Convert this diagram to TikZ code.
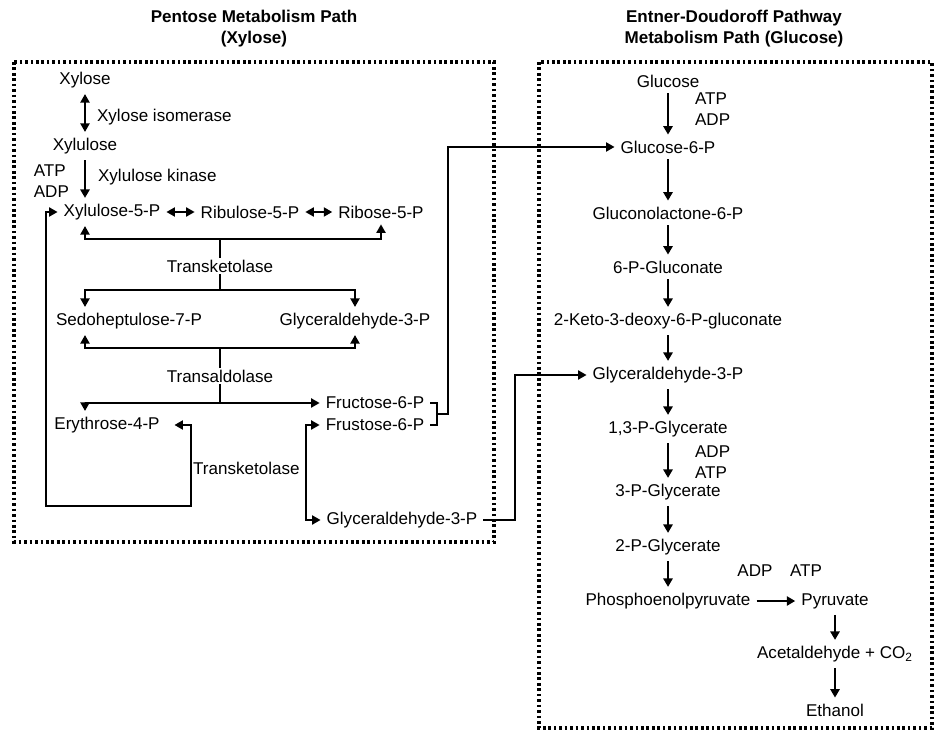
\documentclass[tikz,border=0pt]{standalone}
\usepackage{fontspec}
\setmainfont{Liberation Sans}
\usetikzlibrary{positioning,arrows.meta}

\begin{document}
\begin{tikzpicture}[
  x=0.02cm, y=-0.02cm,
  font=\fontsize{9.7}{11.6}\selectfont,
  >={Triangle[length=4.8pt,width=5.2pt]},
  met/.style={inner sep=3.3pt},
  lbl/.style={inner sep=1pt, align=left},
  title/.style={font=\fontsize{9.7}{12}\selectfont\bfseries, align=center},
  pathbox/.style={draw, line width=1.9pt, dash pattern=on 1.5pt off 1.6pt},
  arrow/.style={->, line width=1.2pt},
  branch/.style={->, line width=0.9pt},
  twoway/.style={<->, line width=0.9pt},
  link/.style={line width=0.9pt}
]
\useasboundingbox (0,0) rectangle (935,732);

% Titles and frames
\node[title] (t_pent) at (254,29) {Pentose Metabolism Path\\(Xylose)};
\node[title] (t_ed) at (734,29) {Entner-Doudoroff Pathway\\Metabolism Path (Glucose)};
\draw[pathbox] (14,62) rectangle (494,542);
\draw[pathbox] (539,62) rectangle (932,728);

% Pentose path
\node[met] (xyl)   at (85,80)   {Xylose};
\node[met] (xylu)  at (85,146)  {Xylulose};
\node[met] (x5p)   at (112,212) {Xylulose-5-P};
\node[met] (ru5p)  at (250,212) {Ribulose-5-P};
\node[met] (r5p)   at (381,212) {Ribose-5-P};
\node[met] (sed7p) at (129,321) {Sedoheptulose-7-P};
\node[met] (gap1)  at (355,321) {Glyceraldehyde-3-P};
\node[met] (ery4p) at (107,425) {Erythrose-4-P};
\node[met] (fru1)  at (375,403) {Fructose-6-P};
\node[met] (fru2)  at (375,425) {Frustose-6-P};
\node[met] (gap2)  at (402,520) {Glyceraldehyde-3-P};

% Enzymes and cofactors
\node[lbl, anchor=west] (xi)   at (95,117)  {Xylose isomerase};
\node[lbl, anchor=west] (xk)   at (96,177)  {Xylulose kinase};
\node[lbl, anchor=east] (atp1) at (71,181)  {ATP\\ADP};
\node[lbl] (tk1) at (220,266) {Transketolase};
\node[lbl] (ta)  at (220,376) {Transaldolase};
\node[lbl, anchor=west] (tk2) at (191,468) {Transketolase};

% Junctions
\coordinate (tkin)  at (220,239);
\coordinate (tkout) at (220,290);
\coordinate (tain)  at (220,348);
\coordinate (taout) at (ta |- fru1.west);
\coordinate (frj)   at (437,414);
\coordinate (frx)   at (448,414);
\coordinate (gj)    at (515,450);
\coordinate (lpr)   at (191,506);
\coordinate (lpl)   at (46,212);
\coordinate (tkr)   at (306,470);

% Entner-Doudoroff path
\node[met] (glc)  at (668,81)  {Glucose};
\node[met] (g6p)  at (668,147) {Glucose-6-P};
\node[met] (gl6p) at (668,213) {Gluconolactone-6-P};
\node[met] (pgn)  at (668,267) {6-P-Gluconate};
\node[met] (kdpg) at (668,321) {2-Keto-3-deoxy-6-P-gluconate};
\node[met] (gap)  at (668,375) {Glyceraldehyde-3-P};
\node[met] (bpg)  at (668,429) {1,3-P-Glycerate};
\node[met] (pga3) at (668,492) {3-P-Glycerate};
\node[met] (pga2) at (668,547) {2-P-Glycerate};
\node[met] (pep)  at (668,601) {Phosphoenolpyruvate};
\node[met] (pyr)  at (835,601) {Pyruvate};
\node[met] (acet) at (835,654) {Acetaldehyde + CO\textsubscript{2}};
\node[met] (eth)  at (835,710) {Ethanol};

\node[lbl, anchor=west] (atp2) at (693,109) {ATP\\ADP};
\node[lbl, anchor=west] (adp2) at (693,462) {ADP\\ATP};
\node[lbl] (adp3) at (755,571) {ADP};
\node[lbl] (atp3) at (806,571) {ATP};

% Flows, xylose
\draw[twoway] (xyl) -- (xylu);
\draw[arrow] (xylu) -- (xylu |- x5p.north);
\draw[twoway] (x5p) -- (ru5p);
\draw[twoway] (ru5p) -- (r5p);

\draw[twoway] (xylu |- x5p.south) |- (tkin) -| (r5p.south);
\draw[link] (tkin) -- (tk1);
\draw[link] (tk1) -- (tkout);
\draw[branch] (tkout) -| (xylu |- sed7p.north);
\draw[branch] (tkout) -| (gap1.north);

\draw[twoway] (xylu |- sed7p.south) |- (tain) -| (gap1.south);
\draw[link] (tain) -- (ta);
\draw[link] (ta) -- (taout);
\draw[branch] (taout) -| (xylu |- ery4p.north);
\draw[branch] (taout) -- (fru1);

\draw[twoway, shorten <=5pt] (ery4p) -| (lpr) -| (lpl) -- (x5p);
\draw[twoway] (fru2) -| (tkr) |- (gap2);

\draw[link] (fru1.east) -| (frj) |- (fru2.east);
\draw[branch] (frj) -- (frx) |- (g6p);
\draw[branch] (gap2) -| (gj) |- (gap);

% Flows, glucose
\draw[arrow] (glc) -- (g6p);
\draw[arrow] (g6p) -- (gl6p);
\draw[arrow] (gl6p) -- (pgn);
\draw[arrow] (pgn) -- (kdpg);
\draw[arrow] (kdpg) -- (gap);
\draw[arrow] (gap) -- (bpg);
\draw[arrow] (bpg) -- (pga3);
\draw[arrow] (pga3) -- (pga2);
\draw[arrow] (pga2) -- (pep);
\draw[arrow] (pep) -- (pyr);
\draw[arrow] (pyr) -- (acet);
\draw[arrow] (acet) -- (eth);

\end{tikzpicture}
\end{document}
